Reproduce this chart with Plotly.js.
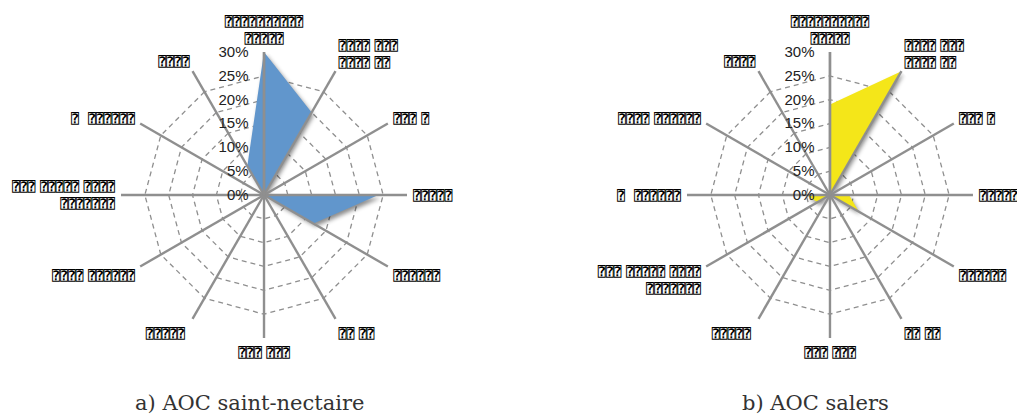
<!DOCTYPE html>
<html>
<head>
<meta charset="utf-8">
<script src="https://cdn.plot.ly/plotly-3.0.1.min.js"></script>
<style>
html,body{margin:0;padding:0;background:#fff;}
#chart{width:1017px;height:417px;}
#chart .js-fill{filter:drop-shadow(2px 3px 2px rgba(0,0,0,0.45));}
</style>
</head>
<body>
<div id="chart"></div>
<script>
// Category labels (rendered as unreadable glyph boxes in the reference)
const leftCategories = [
  "⍰⍰⍰⍰⍰⍰⍰⍰⍰⍰<br>⍰⍰⍰⍰⍰",
  "⍰⍰⍰⍰ ⍰⍰⍰<br>⍰⍰⍰⍰ ⍰⍰",
  "⍰⍰⍰ ⍰",
  "⍰⍰⍰⍰⍰",
  "⍰⍰⍰⍰⍰⍰",
  "⍰⍰ ⍰⍰",
  "⍰⍰⍰ ⍰⍰⍰",
  "⍰⍰⍰⍰⍰ ",
  "⍰⍰⍰⍰ ⍰⍰⍰⍰⍰⍰",
  "⍰⍰⍰ ⍰⍰⍰⍰⍰ ⍰⍰⍰⍰<br>⍰⍰⍰⍰⍰⍰⍰",
  "⍰  ⍰⍰⍰⍰⍰⍰",
  "⍰⍰⍰⍰"
];
const rightCategories = [
  "⍰⍰⍰⍰⍰⍰⍰⍰⍰⍰<br>⍰⍰⍰⍰⍰",
  "⍰⍰⍰⍰ ⍰⍰⍰<br>⍰⍰⍰⍰ ⍰⍰",
  "⍰⍰⍰ ⍰",
  "⍰⍰⍰⍰⍰",
  "⍰⍰⍰⍰⍰⍰",
  "⍰⍰ ⍰⍰",
  "⍰⍰⍰ ⍰⍰⍰",
  "⍰⍰⍰⍰⍰ ",
  "⍰⍰⍰ ⍰⍰⍰⍰⍰ ⍰⍰⍰⍰<br>⍰⍰⍰⍰⍰⍰⍰",
  "⍰  ⍰⍰⍰⍰⍰⍰",
  "⍰⍰⍰⍰ ⍰⍰⍰⍰⍰⍰",
  "⍰⍰⍰⍰"
];
// Shares (%) per category, clockwise from the top
const saintNectaireValues = [30, 20, 0, 24, 12, 0, 0, 4, 0, 0, 0, 7];
const salersValues = [19, 30, 0, 4, 7, 0, 0, 0, 3, 5, 0, 0];
const chartTitles = ["a) AOC saint-nectaire", "b) AOC salers"];
const radialTicks = [0, 5, 10, 15, 20, 25, 30];
const radialTickText = ["0%", "5%", "10%", "15%", "20%", "25%", "30%"];

const GRID = "#8f8f8f";
const labelFont = {family: "DejaVu Sans, DejaVu Sans Mono", size: 13, color: "#000", weight: "bold"};

function closeLoop(a){ return a.concat([a[0]]); }

const traces = [
  {type:"scatterpolar", subplot:"polar", r:closeLoop(saintNectaireValues), theta:closeLoop(leftCategories),
   mode:"lines", fill:"toself", fillcolor:"#6196cc", line:{width:0, color:"#6196cc"}, hoverinfo:"skip", showlegend:false},
  {type:"scatterpolar", subplot:"polar2", r:closeLoop(salersValues), theta:closeLoop(rightCategories),
   mode:"lines", fill:"toself", fillcolor:"#f4e619", line:{width:0, color:"#f4e619"}, hoverinfo:"skip", showlegend:false},
  {type:"scatterpolar", subplot:"polar3", r:[], theta:[], mode:"lines", showlegend:false, hoverinfo:"skip"},
  {type:"scatterpolar", subplot:"polar4", r:[], theta:[], mode:"lines", showlegend:false, hoverinfo:"skip"}
];

function basePolar(dx, cats){
  return {
    domain:{x:dx, y:[0.1894, 0.8753]},
    bgcolor:"#fff",
    gridshape:"linear",
    radialaxis:{range:[0,30], tickvals:radialTicks, showgrid:true, griddash:"5px,4px", gridcolor:GRID, gridwidth:1.3,
      showline:false, showticklabels:false, ticks:"", angle:90},
    angularaxis:{type:"category", categoryarray:cats, rotation:90, direction:"clockwise",
      showgrid:false, showline:false, showticklabels:false, ticks:""}
  };
}
function overPolar(dx, cats){
  return {
    domain:{x:dx, y:[0.1894, 0.8753]},
    bgcolor:"rgba(0,0,0,0)",
    gridshape:"linear",
    radialaxis:{range:[0,30], tickmode:"array", tickvals:radialTicks, ticktext:radialTickText, showgrid:false,
      showline:true, linecolor:GRID, linewidth:2.4, ticks:"outside", ticklen:9, tickcolor:"rgba(0,0,0,0)",
      angle:90, side:"counterclockwise",
      tickangle:90, tickfont:{family:"Liberation Sans, Arial", size:15, color:"#222"}},
    angularaxis:{type:"category", categoryarray:cats, rotation:90, direction:"clockwise",
      showgrid:true, gridcolor:GRID, gridwidth:2.4, showline:false,
      ticks:"outside", ticklen:3, tickcolor:"rgba(0,0,0,0)",
      tickfont:labelFont}
  };
}

const titleFont = {family:"DejaVu Serif, Liberation Serif", size:21, color:"#333"};
const layout = {
  width:1017, height:417,
  margin:{l:0, r:0, t:0, b:0},
  paper_bgcolor:"#fff",
  showlegend:false,
  polar: basePolar([0.119, 0.4002], leftCategories),
  polar2: basePolar([0.6755, 0.9567], rightCategories),
  polar3: overPolar([0.119, 0.4002], leftCategories),
  polar4: overPolar([0.6755, 0.9567], rightCategories),
  annotations:[
    {text:chartTitles[0], x:0.2458, y:0.0336, xref:"paper", yref:"paper", xanchor:"center", yanchor:"middle",
     showarrow:false, font:titleFont},
    {text:chartTitles[1], x:0.8015, y:0.0336, xref:"paper", yref:"paper", xanchor:"center", yanchor:"middle",
     showarrow:false, font:titleFont}
  ]
};

Plotly.newPlot("chart", traces, layout, {staticPlot:true, displayModeBar:false});
</script>
</body>
</html>
